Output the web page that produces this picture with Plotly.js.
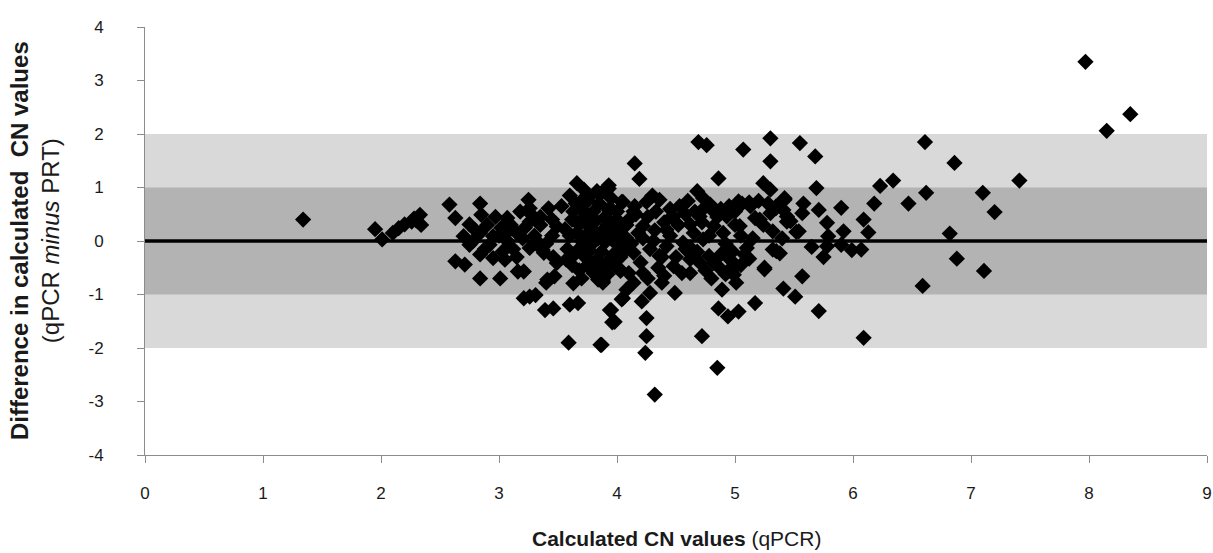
<!DOCTYPE html>
<html>
<head>
<meta charset="utf-8">
<script src="https://cdn.plot.ly/plotly-3.0.1.min.js"></script>
<style>
  html, body { margin: 0; padding: 0; background: #ffffff; }
  #chart { width: 1213px; height: 553px; }
</style>
</head>
<body>
<div id="chart"></div>
<script>
// ---- data ----
const qpcrValues = [
  // low end
  1.34, 1.95, 2.01, 2.10, 2.15, 2.20, 2.26, 2.30, 2.33, 2.34, 2.28,
  // 2.5 - 3.5
  2.58, 2.63, 2.84, 2.85, 2.75, 3.07, 3.25, 3.26, 3.42, 3.53, 3.18, 3.02, 3.26, 3.35, 3.49,
  2.70, 2.84, 2.95, 3.15, 2.75, 2.92, 3.07, 3.26, 3.38, 2.63, 2.71, 2.84, 2.95, 3.05,
  2.84, 3.01, 3.21, 3.49, 3.47, 3.40, 3.21, 3.31, 3.39, 3.46, 3.60, 3.67, 3.94, 3.96,
  3.59, 3.86, 3.88, 4.05, 3.26, 3.16,
  2.80, 2.90, 3.00, 3.10, 3.20, 3.30, 2.88, 3.12, 3.22, 2.97, 3.35, 3.45, 3.40, 3.15, 2.78, 3.03,
  3.08, 3.28, 3.45, 3.33,
  // dense cluster 3.55 - 4.1
  3.60, 3.65, 3.70, 3.75, 3.80, 3.85, 3.90, 3.95, 4.00, 3.62, 3.68, 3.72, 3.78, 3.82, 3.88,
  3.92, 3.98, 4.05, 3.60, 3.66, 3.70, 3.74, 3.79, 3.84, 3.90, 3.96, 4.02, 4.08, 3.58, 3.64,
  3.69, 3.73, 3.77, 3.83, 3.87, 3.93, 3.97, 4.03, 3.62, 3.68, 3.75, 3.80, 3.86, 3.92, 3.99,
  3.56, 3.57, 3.63, 3.72, 3.86, 3.70, 3.84, 3.95, 4.07, 3.76, 3.81, 3.91, 4.00,
  3.66, 3.72, 3.77, 3.91, 3.83, 4.04, 3.94, 3.93, 3.63, 3.37, 3.46, 3.41, 3.88, 4.03,
  // 3.9 - 5.5
  4.69, 4.76, 5.07, 5.30, 5.30, 4.15, 4.19, 4.86, 3.93, 4.68, 4.73, 5.24, 5.30,
  4.05, 4.25, 4.36, 4.53, 4.79, 5.03, 5.42, 5.35, 5.13, 3.93, 4.14, 4.48, 4.70, 4.93, 5.21, 5.44,
  4.22, 4.42, 4.62, 4.82, 5.04, 5.32, 3.91, 4.03, 4.31, 4.56, 4.73, 4.93, 5.10, 5.35,
  4.14, 4.36, 4.62, 4.82, 5.01, 5.25, 3.91, 4.03, 4.22, 4.48, 4.62, 4.99,
  3.88, 4.14, 4.38, 4.49, 4.28, 4.08, 4.04, 4.21,
  4.86, 4.94, 5.03, 5.17, 3.95, 3.98, 4.25, 4.25, 4.24, 4.72, 4.85, 4.32, 3.87,
  4.10, 4.18, 4.26, 4.33, 4.40, 4.45, 4.52, 4.58, 4.65, 4.72, 4.78, 4.85, 4.12, 4.20, 4.28,
  4.35, 4.42, 4.50, 4.55, 4.68, 4.75, 4.88, 4.90, 4.96, 4.15, 4.30, 4.45, 4.60, 4.10, 4.26,
  4.40, 4.58, 4.80, 4.95,
  4.88, 4.95, 5.00, 5.06, 5.12, 5.20, 5.28, 5.35, 5.00, 5.05, 4.92, 5.08, 4.98, 5.30, 5.44,
  5.52, 5.17, 5.24, 5.32, 5.25, 4.95, 5.01, 4.89, 5.15, 5.40,
  4.62, 4.70, 4.78, 4.86, 4.92, 5.05, 5.12, 4.66, 4.74, 4.82,
  4.08, 4.16, 4.22, 4.32, 4.38, 4.46,
  // 5.4 - 6.2
  5.55, 5.68, 5.69, 6.23, 6.34, 6.18, 5.42, 5.58, 5.57, 5.71, 5.90, 5.47, 5.54, 5.78, 5.92,
  6.09, 6.13, 5.79, 5.65, 5.78, 5.75, 5.90, 5.99, 6.07, 5.38, 5.41, 5.57, 5.41, 5.51,
  5.71, 6.09,
  // high end
  6.47, 6.61, 6.62, 6.86, 7.10, 7.20, 6.82, 6.88, 7.11, 6.59, 7.41,
  7.97, 8.15, 8.35
];

const differenceValues = [
  // low end
  0.40, 0.22, 0.03, 0.15, 0.24, 0.31, 0.36, 0.38, 0.49, 0.30, 0.42,
  // 2.5 - 3.5
  0.68, 0.43, 0.70, 0.49, 0.31, 0.43, 0.77, 0.61, 0.61, 0.65, 0.55, 0.25, 0.36, 0.30, 0.27,
  0.09, 0.15, 0.09, 0.15, -0.07, -0.07, 0.00, -0.13, -0.22, -0.38, -0.44, -0.25, -0.32, -0.35,
  -0.70, -0.70, -0.57, -0.41, -0.66, -0.78, -1.07, -1.01, -1.29, -1.26, -1.19, -1.16, -1.29, -1.52,
  -1.90, -1.94, -0.76, -1.07, -1.04, -0.57,
  0.20, 0.30, 0.10, 0.30, 0.05, 0.10, -0.15, -0.15, 0.25, 0.45, 0.45, 0.10, -0.05, -0.30, 0.00, -0.20,
  0.18, 0.48, 0.40, -0.02,
  // dense cluster 3.55 - 4.1
  0.85, 0.70, 0.60, 0.75, 0.55, 0.70, 0.45, 0.60, 0.40, 0.40, 0.30, 0.45, 0.25, 0.38, 0.20,
  0.30, 0.15, 0.25, 0.10, 0.15, 0.00, 0.12, -0.05, 0.05, -0.02, 0.02, -0.08, 0.05, -0.15, -0.25,
  -0.12, -0.30, -0.18, -0.35, -0.20, -0.40, -0.25, -0.30, -0.45, -0.55, -0.45, -0.60, -0.50, -0.62, -0.48,
  0.22, -0.35, 0.55, 0.80, 0.88, -0.70, -0.72, 0.80, -0.18, 0.35, 0.12, 0.10, 0.55,
  1.08, 0.96, 0.83, 0.98, 0.93, 0.73, 0.61, 1.04, -0.79, -0.17, -0.30, -0.72, -0.73, -0.54,
  // 3.9 - 5.5
  1.85, 1.79, 1.71, 1.92, 1.49, 1.45, 1.16, 1.17, 0.98, 0.93, 0.80, 1.08, 0.96,
  0.73, 0.73, 0.77, 0.65, 0.68, 0.74, 0.80, 0.65, 0.65, 0.58, 0.55, 0.46, 0.46, 0.46, 0.40, 0.46,
  0.28, 0.21, 0.31, 0.28, 0.28, 0.18, 0.21, 0.12, 0.00, -0.03, 0.03, -0.16, -0.13, -0.19,
  -0.22, -0.28, -0.34, -0.41, -0.47, -0.53, -0.41, -0.56, -0.60, -0.47, -0.60, -0.63,
  -0.78, -0.78, -0.78, -0.97, -0.97, -0.91, -1.09, -1.13,
  -1.26, -1.41, -1.32, -1.16, -1.29, -1.51, -1.44, -1.78, -2.09, -1.78, -2.37, -2.87, -1.94,
  0.40, 0.15, 0.45, 0.55, 0.35, 0.10, 0.30, 0.50, 0.15, 0.35, 0.10, 0.45, -0.05, -0.40, -0.15,
  -0.50, -0.10, -0.30, -0.60, -0.20, -0.55, -0.25, 0.15, -0.35, 0.65, 0.85, 0.60, 0.75, -0.60, -0.70,
  -0.65, -0.15, -0.70, 0.60,
  0.60, 0.65, 0.55, 0.70, 0.72, 0.75, 0.70, 0.62, 0.30, 0.10, -0.05, -0.25, -0.20, 0.52, 0.36,
  0.17, 0.43, 0.30, -0.16, -0.50, -0.54, -0.78, -0.91, 0.05, 0.05,
  -0.12, -0.40, -0.28, -0.48, -0.62, -0.45, -0.33, 0.55, 0.62, 0.55,
  0.30, 0.50, 0.05, 0.20, -0.30, 0.45,
  // 5.4 - 6.2
  1.83, 1.58, 0.99, 1.03, 1.13, 0.70, 0.77, 0.70, 0.52, 0.58, 0.62, 0.37, 0.18, 0.34, 0.18,
  0.40, 0.16, 0.09, -0.11, -0.10, -0.30, -0.07, -0.17, -0.16, -0.23, 0.58, -0.66, -0.89, -1.04,
  -1.31, -1.81,
  // high end
  0.70, 1.85, 0.90, 1.46, 0.90, 0.54, 0.14, -0.33, -0.56, -0.84, 1.13,
  3.35, 2.06, 2.37
];

const outerBand = [-2, 2];      // light grey band
const innerBand = [-1, 1];      // darker grey band
const referenceLevel = 0;       // thick black line

const xTickValues = [0, 1, 2, 3, 4, 5, 6, 7, 8, 9];
const xTickLabels = ['0', '1', '2', '3', '4', '5', '6', '7', '8', '9'];
const yTickValues = [-4, -3, -2, -1, 0, 1, 2, 3, 4];
const yTickLabels = ['-4', '-3', '-2', '-1', '0', '1', '2', '3', '4'];

const xTitle = '<b>Calculated CN values</b> (qPCR)';
const yTitle = '<b>Difference in calculated  CN values</b><br>(qPCR <i>minus</i> PRT)';

// ---- chart ----
const FONT = 'Liberation Sans, Arial, sans-serif';

const trace = {
  type: 'scatter',
  mode: 'markers',
  x: qpcrValues,
  y: differenceValues,
  marker: { symbol: 'diamond', size: 12.5, color: '#000000', line: { width: 0 } },
  hoverinfo: 'x+y',
  showlegend: false
};

const layout = {
  width: 1213,
  height: 553,
  margin: { l: 145, r: 6, t: 27, b: 98 },
  paper_bgcolor: '#ffffff',
  plot_bgcolor: '#ffffff',
  font: { family: FONT, size: 17, color: '#1a1a1a' },
  showlegend: false,
  xaxis: {
    range: [0, 9],
    tickmode: 'array',
    tickvals: xTickValues,
    ticktext: xTickLabels,
    showgrid: false,
    zeroline: false,
    showline: true,
    linecolor: '#8c8c8c',
    linewidth: 1,
    ticks: 'outside',
    ticklen: 7,
    tickcolor: '#8c8c8c',
    ticklabelstandoff: 16,
    tickfont: { family: FONT, size: 17, color: '#1a1a1a' }
  },
  yaxis: {
    range: [-4, 4],
    tickmode: 'array',
    tickvals: yTickValues,
    ticktext: yTickLabels,
    showgrid: false,
    zeroline: false,
    showline: true,
    linecolor: '#8c8c8c',
    linewidth: 1,
    ticks: 'outside',
    ticklen: 7,
    tickcolor: '#8c8c8c',
    ticklabelstandoff: 30,
    tickfont: { family: FONT, size: 17, color: '#1a1a1a' }
  },
  shapes: [
    { type: 'rect', layer: 'below', xref: 'paper', yref: 'y', x0: 0, x1: 1,
      y0: outerBand[0], y1: outerBand[1], fillcolor: '#d9d9d9', line: { width: 0 } },
    { type: 'rect', layer: 'below', xref: 'paper', yref: 'y', x0: 0, x1: 1,
      y0: innerBand[0], y1: innerBand[1], fillcolor: '#b3b3b3', line: { width: 0 } },
    { type: 'line', layer: 'below', xref: 'paper', yref: 'y', x0: 0, x1: 1,
      y0: referenceLevel, y1: referenceLevel, line: { color: '#000000', width: 3.5 } }
  ],
  annotations: [
    { text: xTitle, xref: 'paper', yref: 'paper', x: 0.5, y: -0.194,
      xanchor: 'center', yanchor: 'middle', showarrow: false,
      font: { family: FONT, size: 21, color: '#1a1a1a' } },
    { text: yTitle, xref: 'paper', yref: 'paper', x: -0.1035, y: 0.5,
      xanchor: 'center', yanchor: 'middle', textangle: -90, showarrow: false,
      font: { family: FONT, size: 24, color: '#1a1a1a' } }
  ]
};

Plotly.newPlot('chart', [trace], layout, { displayModeBar: false, staticPlot: true });
</script>
</body>
</html>
